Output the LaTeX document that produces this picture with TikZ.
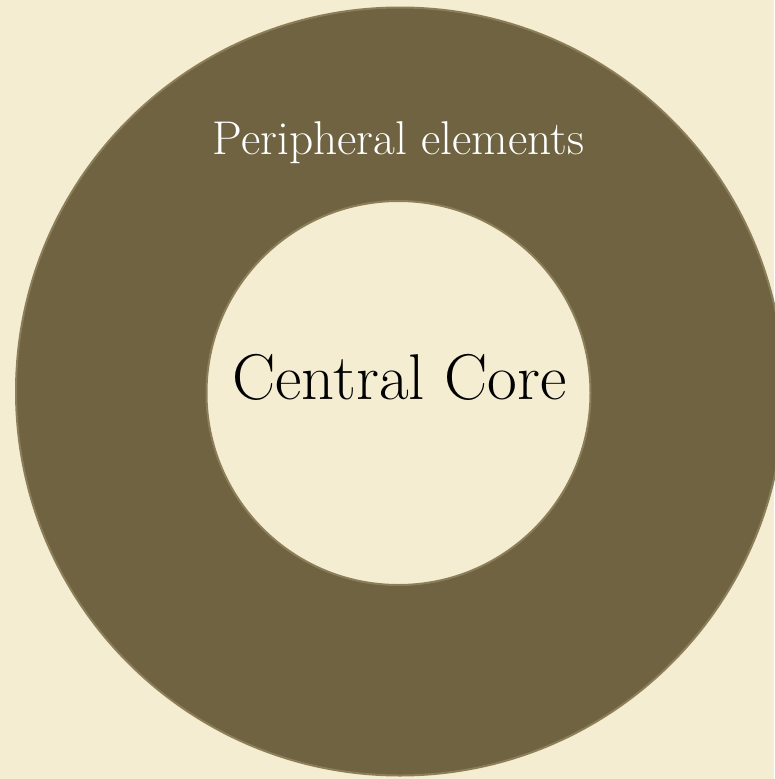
\documentclass[tikz,border=0pt]{standalone}
\usepackage{fontspec}
\definecolor{bgpaper}{HTML}{F5EDD2}
\definecolor{ringfill}{HTML}{6F6341}
\definecolor{rimcol}{HTML}{8C7E58}
\tikzset{
  ring/.style={circle, fill=ringfill, draw=rimcol, line width=2pt, inner sep=0pt},
  hole/.style={circle, fill=bgpaper, draw=rimcol, line width=2pt, inner sep=0pt},
  ringlabel/.style={text=white, inner sep=0pt, anchor=base, font=\fontsize{47.4}{52}\selectfont},
  corelabel/.style={text=black, inner sep=0pt, anchor=base, font=\fontsize{64.7}{70}\selectfont}
}
\begin{document}
\begin{tikzpicture}[x=1pt,y=-1pt]
\fill[bgpaper] (0,0) rectangle (774,779);
\useasboundingbox (0,0) rectangle (774,779);
\node[ring, minimum size=768pt] (outer) at (400,391.5) {};
\node[hole, minimum size=384pt] (inner) at (398.5,393) {};
\node[ringlabel] (periph) at (398.5,154) {Peripheral elements};
\node[corelabel] (core) at (399.5,399) {Central Core};
\end{tikzpicture}
\end{document}
